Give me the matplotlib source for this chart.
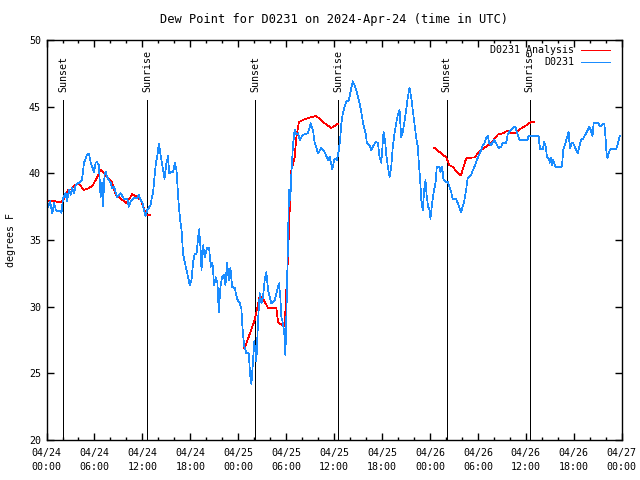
import matplotlib
matplotlib.use('Agg')
import matplotlib.pyplot as plt
import matplotlib.dates as mdates
import numpy as np
import pandas as pd

plt.rcParams['font.family'] = ['DejaVu Sans Mono']
plt.rcParams['font.size'] = 7.2

start = pd.Timestamp('2024-04-24 00:00')
nan = np.nan

# observed dew point (hours since 04/24 00:00 UTC, deg F)
blue_hours = [0.0, 0.44, 0.73, 0.94, 1.19, 1.81, 1.87, 2.06, 2.4, 2.56, 2.81, 3.02, 3.19, 3.44,
              3.65, 4.06, 4.44, 4.69, 4.9, 5.06, 5.31, 5.52, 5.94, 6.15, 6.31, 6.56, 6.77, 6.94,
              7.06, 7.27, 7.4, 7.6, 8.02, 8.22, 8.44, 8.65, 8.85, 9.27, 9.69, 10.1, 10.31, 10.52,
              10.94, 11.35, 11.56, 11.77, 11.98, 12.19, 12.4, 12.6, 13.02, 13.15, 13.35, 13.48,
              13.69, 13.85, 14.06, 14.27, 14.52, 14.77, 15.02, 15.22, 15.35, 15.65, 15.85, 16.06,
              16.27, 16.48, 16.69, 16.9, 17.1, 17.31, 17.52, 17.73, 17.94, 18.15, 18.35, 18.56,
              18.77, 18.98, 19.1, 19.27, 19.4, 19.6, 19.81, 20.1, 20.35, 20.56, 20.77, 20.98,
              21.19, 21.4, 21.56, 21.77, 21.98, 22.19, 22.4, 22.6, 22.81, 23.02, 23.23, 23.56,
              23.77, 23.98, 24.19, 24.4, 24.52, 24.73, 25.02, 25.31, 25.5, 25.65, 25.81, 26.0,
              26.27, 26.48, 26.69, 26.9, 27.1, 27.31, 27.52, 27.73, 28.15, 28.56, 28.77, 29.1,
              29.27, 29.4, 29.6, 29.81, 29.9, 30.02, 30.23, 30.35, 30.52, 30.65, 30.85, 31.06,
              31.27, 31.48, 31.69, 32.1, 32.73, 33.06, 33.35, 33.56, 33.98, 34.4, 34.81, 35.23,
              35.44, 35.77, 36.06, 36.35, 36.6, 36.77, 36.9, 37.1, 37.31, 37.52, 37.85, 38.15,
              38.35, 38.56, 38.77, 39.19, 39.4, 39.6, 39.94, 40.1, 40.44, 40.65, 40.85, 41.19,
              41.48, 41.69, 41.9, 42.02, 42.19, 42.4, 42.52, 42.73, 42.94, 43.15, 43.35, 43.56,
              43.77, 43.98, 44.19, 44.4, 44.6, 44.81, 45.02, 45.23, 45.44, 45.65, 45.85, 46.06,
              46.27, 46.48, 46.6, 46.77, 46.94, 47.1, 47.27, 47.44, 47.6, 47.77, 47.94, 48.06,
              48.27, 48.44, 48.69, 48.85, 49.19, 49.31, 49.52, 49.69, 50.02, 50.23, 50.44, 50.65,
              50.85, 51.27, 51.48, 51.69, 51.9, 52.1, 52.31, 52.52, 52.73, 53.15, 53.56, 53.98,
              54.4, 54.6, 54.81, 55.02, 55.23, 55.44, 55.65, 55.85, 56.06, 56.27, 56.6, 56.9,
              57.1, 57.52, 57.73, 57.94, 58.35, 58.69, 58.85, 59.1, 59.19, 60.19, 60.35, 61.6,
              61.69, 61.81, 62.1, 62.31, 62.52, 62.65, 62.85, 63.02, 63.15, 63.27, 63.44, 63.69,
              64.52, 64.69, 64.94, 65.15, 65.35, 65.52, 65.73, 65.94, 66.19, 66.48, 66.69, 66.9,
              67.19, 67.44, 67.73, 67.94, 68.15, 68.35, 68.48, 69.1, 69.27, 69.6, 69.81, 69.94,
              70.1, 70.23, 70.44, 70.65, 71.27, 71.48, 71.69, 71.81]
blue_dew = [37.2, 37.9, 37.0, 37.8, 37.2, 37.2, 37.0, 38.1, 38.5, 37.9, 38.75, 38.4, 38.9, 38.5,
            39.1, 39.3, 39.5, 40.8, 41.1, 41.4, 41.45, 40.85, 40.1, 40.8, 40.85, 40.6, 38.2, 39.3,
            37.5, 40.0, 40.1, 39.7, 39.3, 38.9, 39.0, 38.6, 38.2, 38.5, 38.1, 38.1, 37.5, 37.85,
            38.2, 38.1, 38.4, 38.0, 37.85, 37.25, 36.8, 37.25, 37.6, 38.1, 38.6, 39.5,
            40.8, 41.2, 42.2, 41.4, 40.5, 39.6, 40.8, 41.3, 40.0, 40.1, 40.1, 40.8,
            40.25, 38.2, 36.7, 35.75, 33.9, 33.35, 32.75, 32.2, 31.6, 32.0, 33.35, 34.0,
            33.9, 35.2, 35.8, 34.5, 32.75, 34.6, 33.7, 34.4, 34.4, 33.0, 33.3, 31.6,
            32.2, 31.75, 29.6, 31.5, 32.2, 32.4, 31.6, 33.3, 32.0, 32.9, 31.5, 31.4,
            30.8, 30.4, 30.3, 29.8, 28.5, 27.1, 26.5, 26.5, 24.8, 24.2, 25.6, 27.4,
            25.9, 29.0, 31.0, 30.25, 30.7, 32.0, 32.6, 31.25, 30.25, 30.5, 31.0, 31.75,
            30.7, 29.2, 28.75, 27.7, 26.35, 29.2, 35.0, 38.75, 38.0, 40.0, 42.1, 43.25,
            42.9, 43.0, 42.5, 42.9, 43.0, 43.75, 43.25, 42.35, 41.5, 41.9, 41.6, 41.0,
            41.25, 40.3, 41.1, 41.0, 41.75, 42.7, 43.75, 44.5, 45.0, 45.35, 45.5, 46.4,
            46.9, 46.6, 46.25, 45.25, 44.6, 43.85, 43.0, 42.3, 42.1, 41.75, 42.0, 42.35,
            42.3, 41.2, 40.8, 41.75, 43.1, 42.35, 41.4, 40.5, 39.75, 40.5, 42.0, 43.0,
            43.75, 44.4, 44.75, 42.7, 43.1, 43.85, 44.75, 45.7, 46.4, 45.7, 44.75, 43.75,
            42.7, 42.0, 40.8, 39.5, 37.8, 37.25, 38.75, 39.5, 38.25, 37.5, 37.25, 36.6,
            37.8, 38.5, 39.25, 40.5, 40.5, 40.1, 40.5, 39.5, 39.35, 39.35, 39.0, 38.6,
            38.1, 38.05, 37.75, 37.4, 37.1, 37.5, 38.0, 38.75, 39.65, 39.9, 40.5, 41.15,
            41.75, 42.1, 42.25, 42.65, 42.8, 42.25, 42.1, 42.35, 42.5, 42.25, 41.9, 42.0,
            42.25, 42.25, 42.9, 43.1, 43.4, 43.5, 43.1, 42.7, 42.5, 42.5, 42.8, 42.8,
            42.25, 41.8, 41.8, 42.35, 41.9, 41.2, 41.15, 40.8, 41.15, 40.6, 41.0, 40.5,
            40.5, 41.75, 42.25, 42.7, 43.1, 41.9, 42.25, 42.25, 41.9, 41.5, 42.0, 42.5,
            42.6, 42.9, 43.2, 43.5, 43.2, 42.8, 43.75, 43.75, 43.5, 43.7, 43.75, 43.0,
            41.5, 41.15, 41.65, 41.8, 41.8, 42.1, 42.7, 42.8]

# analysis dew point, gaps as NaN
red_hours = [0.0, 0.31, 1.15, 1.77, 2.1, 2.4, 2.69, 3.1, 3.52, 4.06, 4.69, 5.31, 5.73, 6.15,
             6.56, 6.77, 7.19, 7.81, 8.22, 8.65, 9.27, 10.02, 10.73, 11.15, 11.77, 12.19, 12.4,
             12.94, 18.0,
             24.73, 24.81, 26.06, 26.69, 27.1, 27.73, 28.77, 28.98, 29.6, 29.81, 30.02, 30.23,
             30.44, 30.65, 31.06, 31.27, 31.6, 32.1, 32.73, 33.77, 34.6, 35.65, 36.44, 42.0,
             48.56, 49.19, 50.02, 50.44, 50.81, 51.69, 51.9, 52.52, 52.73, 53.56, 54.4, 55.02,
             55.65, 56.48, 57.1, 57.73, 58.15, 58.77, 59.19, 59.81, 60.65, 61.06]
red_dew = [38.0, 37.95, 37.9, 37.8, 38.0, 38.4, 38.75, 38.8, 39.1, 39.2, 38.75, 38.9, 39.05, 39.5,
           40.0, 40.25, 40.0, 39.6, 39.3, 38.4, 38.1, 37.75, 38.45, 38.3, 38.0, 37.4, 36.9,
           36.9, nan,
           26.9, 26.9, 29.0, 30.8, 30.6, 29.9, 29.9, 28.85, 28.55, 28.5, 31.25, 33.7,
           37.2, 40.25, 41.2, 42.7, 43.85, 44.0, 44.15, 44.3, 43.85, 43.4, 43.7, nan,
           41.9, 41.6, 41.2, 40.6, 40.5, 39.9, 39.9, 41.1, 41.15, 41.2, 41.75, 42.0,
           42.25, 42.9, 43.0, 43.2, 43.0, 43.0, 43.3, 43.5, 43.85, 43.85]

sun_labels = ['Sunset', 'Sunrise', 'Sunset', 'Sunrise', 'Sunset', 'Sunrise']
sun_hours = [2.1, 12.6, 26.15, 36.5, 50.1, 60.5]

blue_t = start + pd.to_timedelta(blue_hours, unit='h')
red_t = start + pd.to_timedelta(red_hours, unit='h')
sun_t = start + pd.to_timedelta(sun_hours, unit='h')

fig = plt.figure(figsize=(6.4, 4.8), dpi=100)
ax = fig.add_axes([0.0727, 0.0833, 0.8987, 0.8334])

red = '#ff0000'
blue = '#1a8cff'
lw = 0.5  # one crisp pixel when not antialiased

for t, lab in zip(sun_t, sun_labels):
    ax.plot([t, t], [20, 45.5], color='black', lw=lw, antialiased=False)
    ax.text(t, 46.1, lab, rotation=90, ha='center', va='bottom')

ax.plot(red_t, red_dew, color=red, lw=lw, antialiased=False)
ax.plot(blue_t, blue_dew, color=blue, lw=lw, antialiased=False)

ax.set_xlim(start, start + pd.Timedelta(hours=72))
ax.set_ylim(20, 50)
ax.set_yticks(range(20, 51, 5))
ax.xaxis.set_major_locator(mdates.HourLocator(byhour=range(0, 24, 6)))
ax.xaxis.set_minor_locator(mdates.HourLocator(byhour=range(0, 24, 2)))
ax.xaxis.set_major_formatter(mdates.DateFormatter('%m/%d\n%H:%M'))
ax.tick_params(axis='both', which='major', direction='in', length=5, width=1,
               top=True, right=True, labelsize=7.2)
ax.tick_params(axis='x', which='major', pad=6)
ax.tick_params(axis='y', which='major', pad=4)
ax.tick_params(axis='x', which='minor', direction='in', length=2.5, width=1, top=True)
for lbl in ax.get_xticklabels():
    lbl.set_linespacing(1.4)
for s in ax.spines.values():
    s.set_linewidth(1)

ax.set_ylabel('degrees F', labelpad=9)
ax.set_title('Dew Point for D0231 on 2024-Apr-24 (time in UTC)', pad=12)

# legend, gnuplot style: right-aligned text, sample to the right
ax.text(0.917, 0.975, 'D0231 Analysis', transform=ax.transAxes, ha='right', va='center')
ax.plot([0.929, 0.980], [0.975, 0.975], transform=ax.transAxes, color=red, lw=lw,
        antialiased=False)
ax.text(0.917, 0.944, 'D0231', transform=ax.transAxes, ha='right', va='center')
ax.plot([0.929, 0.980], [0.944, 0.944], transform=ax.transAxes, color=blue, lw=lw,
        antialiased=False)

fig.savefig('out.png', dpi=100)
